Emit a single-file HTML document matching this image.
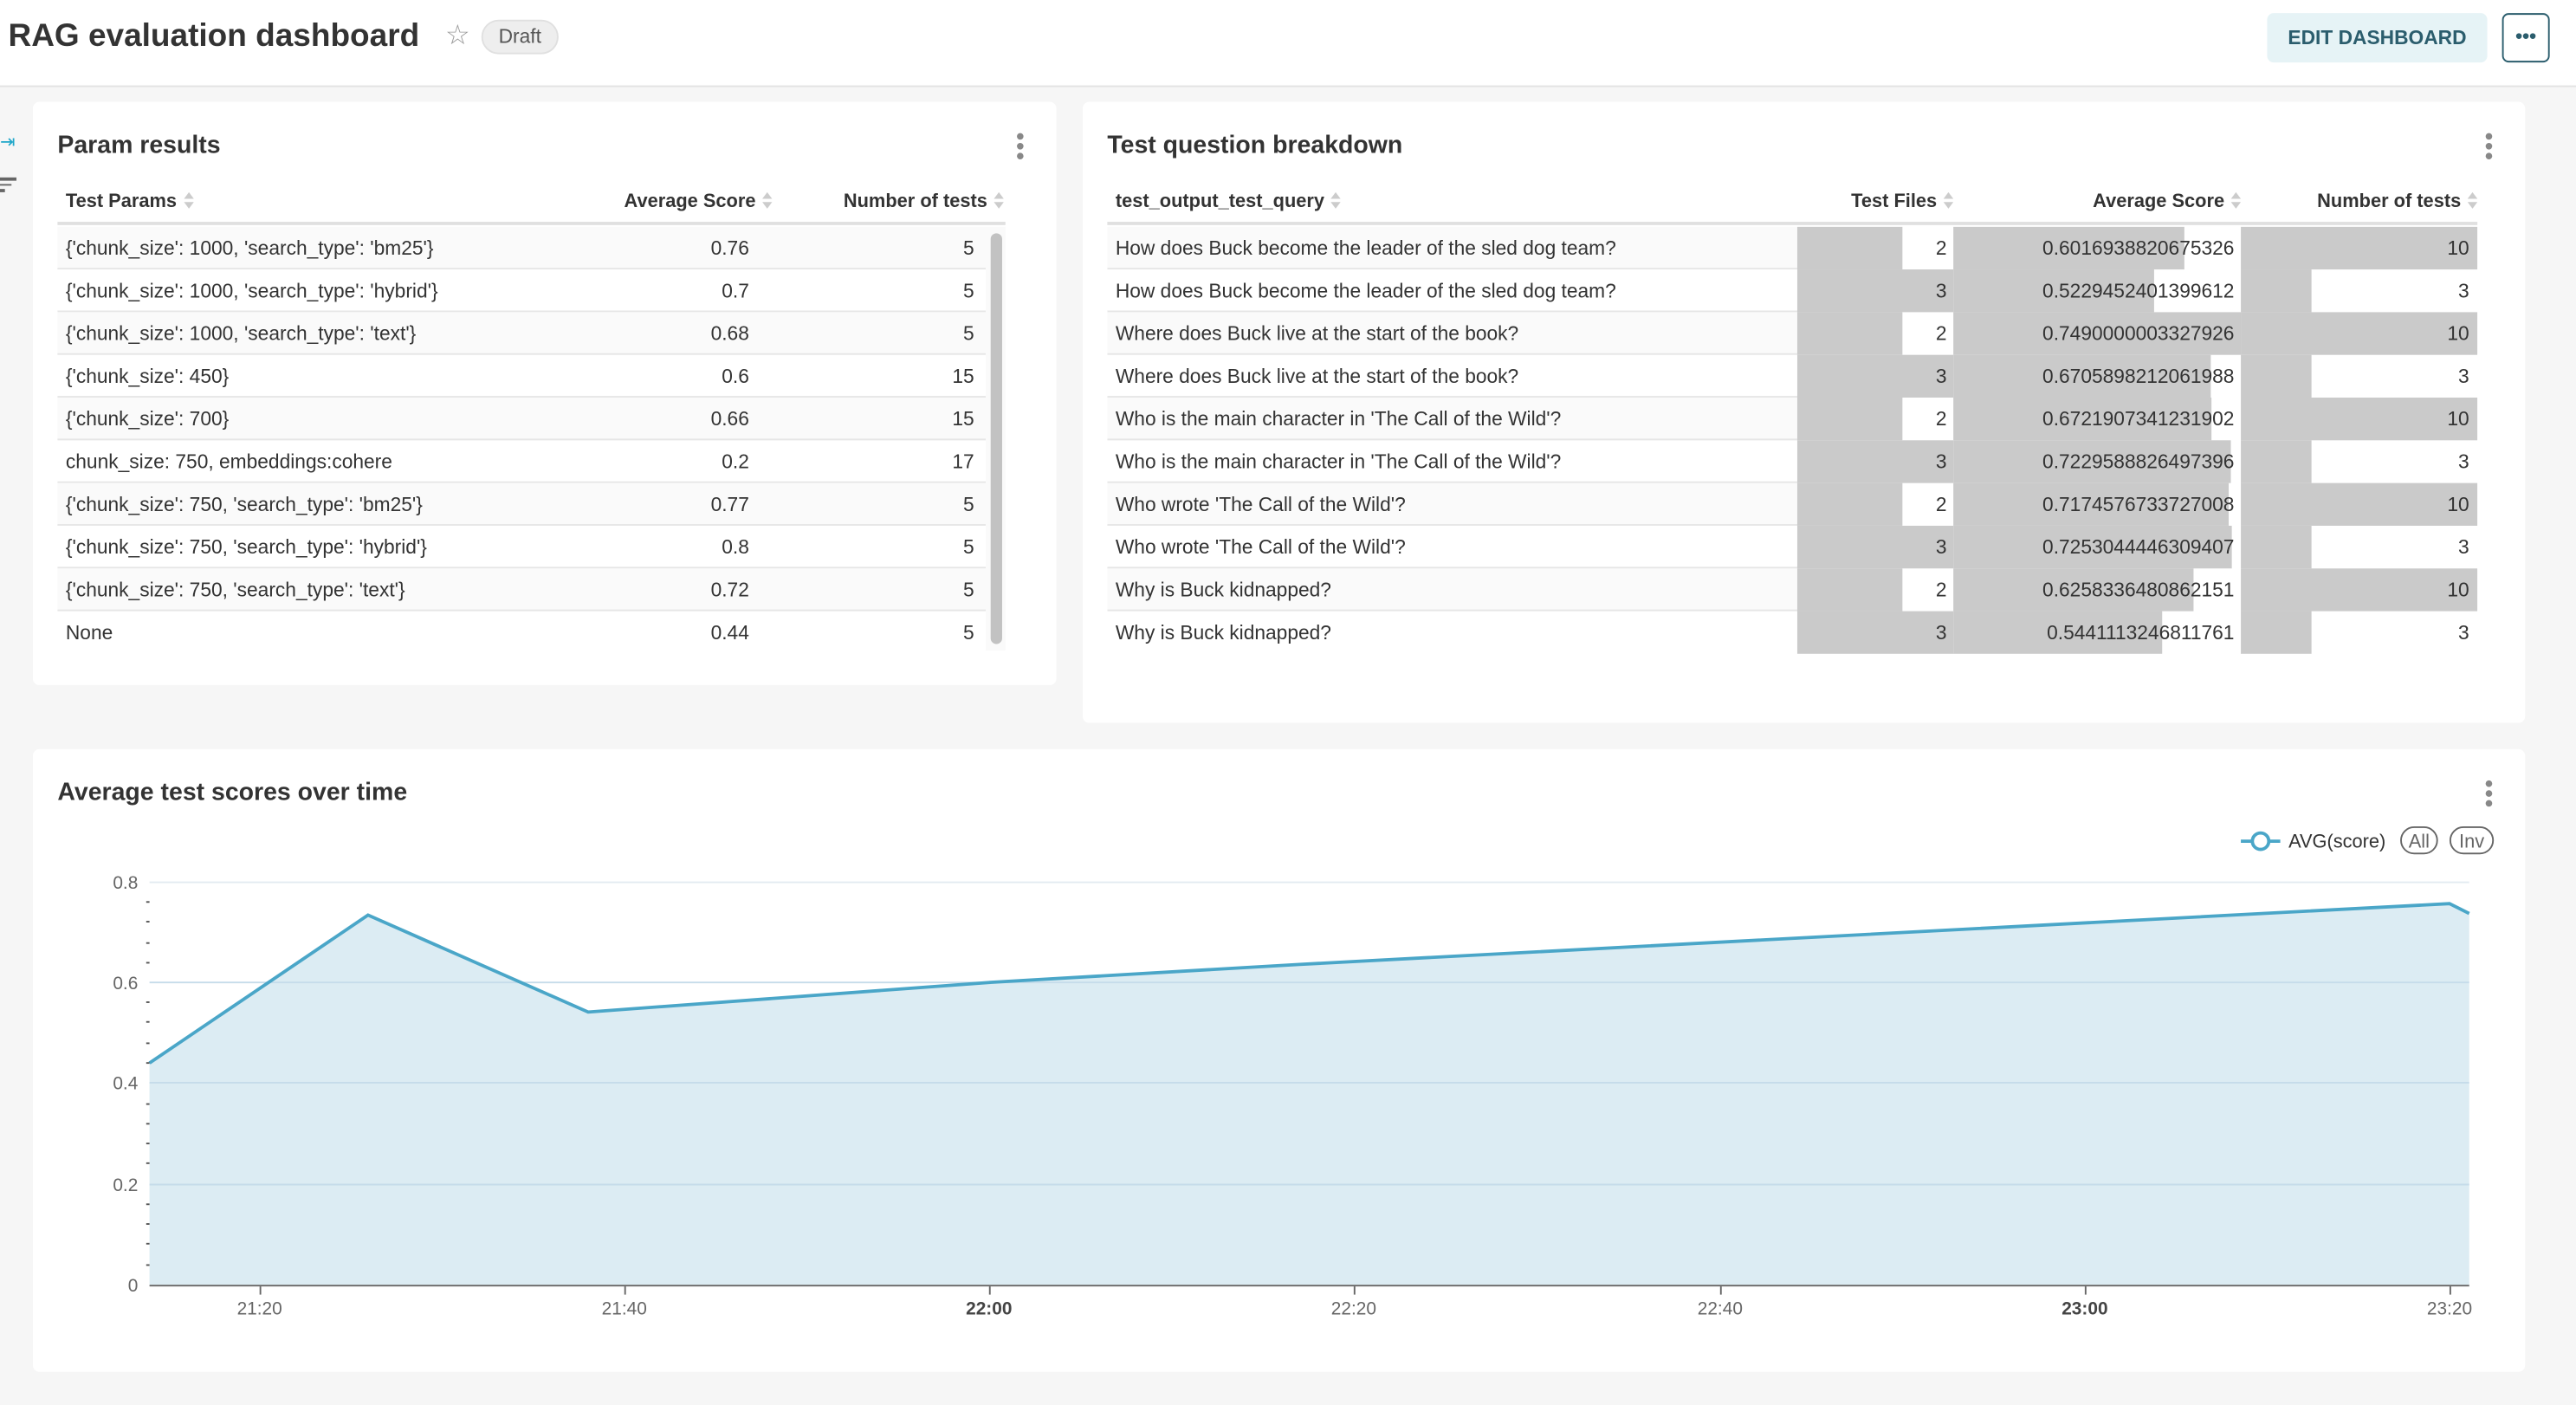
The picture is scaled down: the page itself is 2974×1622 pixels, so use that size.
<!DOCTYPE html>
<html><head><meta charset="utf-8"><style>
*{margin:0;padding:0;box-sizing:border-box}
html,body{width:2974px;height:1622px;overflow:hidden;background:#f6f6f6;font-family:"Liberation Sans",Arial,sans-serif;color:#333}
#w{position:absolute;left:0;top:0;width:1568px;height:855px;transform:scale(1.89668);transform-origin:0 0}
.a{position:absolute}
.hdr{left:0;top:0;width:1568px;height:53px;background:#fff;border-bottom:1px solid #e2e2e2}
.panel{background:#fff;border-radius:4px}
.pt{font-size:15px;font-weight:bold;color:#333}
.keb{width:4px}
.keb i{display:block;width:4px;height:4px;border-radius:2px;background:#888;margin-bottom:2px}
.th{font-size:11.5px;font-weight:bold;color:#333;white-space:nowrap}
.td{font-size:12px;color:#333;white-space:nowrap;line-height:26px}
.row{height:26px;border-bottom:1px solid #e6e6e6}
.s{display:inline-block;width:6px;height:10px;vertical-align:-1px;margin-left:4px}
</style></head><body><div id="w">
<div class="a hdr"></div>
<div class="a" style="left:5px;top:11px;font-size:19.5px;font-weight:bold;color:#333">RAG evaluation dashboard</div>
<div class="a" style="left:271px;top:12px;font-size:17px;color:#999">☆</div>
<div class="a" style="left:293px;top:12px;width:47px;height:21px;border-radius:11px;background:#eee;border:1px solid #e0e0e0;font-size:12px;line-height:19px;text-align:center;color:#555">Draft</div>
<div class="a" style="left:1380px;top:8px;width:134px;height:30px;background:#e6f3f6;border-radius:4px;font-size:12px;font-weight:bold;color:#2b5d6d;line-height:30px;text-align:center">EDIT DASHBOARD</div>
<div class="a" style="left:1523px;top:8px;width:29px;height:30px;border:1px solid #2b5d6d;border-radius:4px;font-size:12px;font-weight:bold;color:#2b5d6d;line-height:26px;text-align:center">•••</div>
<div class="a" style="left:0;top:80px;font-size:11px;color:#20a7c9">⇥</div>
<div class="a" style="left:0;top:108px;width:10px"><div style="height:1.5px;background:#666;width:10px;margin-bottom:2px"></div><div style="height:1.5px;background:#666;width:7px;margin-bottom:2px"></div><div style="height:1.5px;background:#666;width:3px"></div></div>

<div class="a panel" style="left:20px;top:62px;width:623px;height:355px"></div>
<div class="a pt" style="left:35px;top:80px">Param results</div>
<div class="a keb" style="left:619px;top:81px"><i></i><i></i><i></i></div>
<div class="a" style="left:35px;top:112px;width:577px;height:25px;border-bottom:2px solid #e0e0e0"></div>
<div class="a th" style="left:40px;top:117px">Test Params<svg class="s" viewBox="0 0 6 10"><path d="M3 0L6 4H0z M3 10L6 6H0z" fill="#ccc"/></svg></div>
<div class="a th" style="left:340px;top:117px;width:130px;text-align:right">Average Score<svg class="s" viewBox="0 0 6 10"><path d="M3 0L6 4H0z M3 10L6 6H0z" fill="#ccc"/></svg></div>
<div class="a th" style="left:480px;top:117px;width:131px;text-align:right">Number of tests<svg class="s" viewBox="0 0 6 10"><path d="M3 0L6 4H0z M3 10L6 6H0z" fill="#ccc"/></svg></div>
<div class="a" style="left:35px;top:138px;width:565px">
<div class="row" style="background:#fafafa;position:relative"><span class="a td" style="left:5px">{'chunk_size': 1000, 'search_type': 'bm25'}</span><span class="a td" style="right:144px">0.76</span><span class="a td" style="right:7px">5</span></div>
<div class="row" style="position:relative"><span class="a td" style="left:5px">{'chunk_size': 1000, 'search_type': 'hybrid'}</span><span class="a td" style="right:144px">0.7</span><span class="a td" style="right:7px">5</span></div>
<div class="row" style="background:#fafafa;position:relative"><span class="a td" style="left:5px">{'chunk_size': 1000, 'search_type': 'text'}</span><span class="a td" style="right:144px">0.68</span><span class="a td" style="right:7px">5</span></div>
<div class="row" style="position:relative"><span class="a td" style="left:5px">{'chunk_size': 450}</span><span class="a td" style="right:144px">0.6</span><span class="a td" style="right:7px">15</span></div>
<div class="row" style="background:#fafafa;position:relative"><span class="a td" style="left:5px">{'chunk_size': 700}</span><span class="a td" style="right:144px">0.66</span><span class="a td" style="right:7px">15</span></div>
<div class="row" style="position:relative"><span class="a td" style="left:5px">chunk_size: 750, embeddings:cohere</span><span class="a td" style="right:144px">0.2</span><span class="a td" style="right:7px">17</span></div>
<div class="row" style="background:#fafafa;position:relative"><span class="a td" style="left:5px">{'chunk_size': 750, 'search_type': 'bm25'}</span><span class="a td" style="right:144px">0.77</span><span class="a td" style="right:7px">5</span></div>
<div class="row" style="position:relative"><span class="a td" style="left:5px">{'chunk_size': 750, 'search_type': 'hybrid'}</span><span class="a td" style="right:144px">0.8</span><span class="a td" style="right:7px">5</span></div>
<div class="row" style="background:#fafafa;position:relative"><span class="a td" style="left:5px">{'chunk_size': 750, 'search_type': 'text'}</span><span class="a td" style="right:144px">0.72</span><span class="a td" style="right:7px">5</span></div>
<div class="row" style="position:relative;border-bottom:none"><span class="a td" style="left:5px">None</span><span class="a td" style="right:144px">0.44</span><span class="a td" style="right:7px">5</span></div>
</div>
<div class="a" style="left:600px;top:138px;width:12px;height:258px;background:#fafafa"></div>
<div class="a" style="left:603px;top:142px;width:7px;height:250px;border-radius:4px;background:#c2c2c2"></div>

<div class="a panel" style="left:659px;top:62px;width:878px;height:378px"></div>
<div class="a pt" style="left:674px;top:80px">Test question breakdown</div>
<div class="a keb" style="left:1513px;top:81px"><i></i><i></i><i></i></div>
<div class="a" style="left:674px;top:112px;width:834px;height:25px;border-bottom:2px solid #e0e0e0"></div>
<div class="a th" style="left:679px;top:117px">test_output_test_query<svg class="s" viewBox="0 0 6 10"><path d="M3 0L6 4H0z M3 10L6 6H0z" fill="#ccc"/></svg></div>
<div class="a th" style="left:1094px;top:117px;width:95px;text-align:right">Test Files<svg class="s" viewBox="0 0 6 10"><path d="M3 0L6 4H0z M3 10L6 6H0z" fill="#ccc"/></svg></div>
<div class="a th" style="left:1189px;top:117px;width:175px;text-align:right">Average Score<svg class="s" viewBox="0 0 6 10"><path d="M3 0L6 4H0z M3 10L6 6H0z" fill="#ccc"/></svg></div>
<div class="a th" style="left:1364px;top:117px;width:144px;text-align:right">Number of tests<svg class="s" viewBox="0 0 6 10"><path d="M3 0L6 4H0z M3 10L6 6H0z" fill="#ccc"/></svg></div>

<svg class="a" style="left:674px;top:138px" width="834" height="260">
<g fill="#fafafa"><rect x="0" y="0" width="420" height="26"/><rect x="0" y="52" width="420" height="26"/><rect x="0" y="104" width="420" height="26"/><rect x="0" y="156" width="420" height="26"/><rect x="0" y="208" width="420" height="26"/></g>
<g fill="#e6e6e6"><rect x="0" y="25" width="420" height="1"/><rect x="0" y="51" width="420" height="1"/><rect x="0" y="77" width="420" height="1"/><rect x="0" y="103" width="420" height="1"/><rect x="0" y="129" width="420" height="1"/><rect x="0" y="155" width="420" height="1"/><rect x="0" y="181" width="420" height="1"/><rect x="0" y="207" width="420" height="1"/><rect x="0" y="233" width="420" height="1"/></g>
<g fill="#cacaca">
<rect x="420" y="0" width="64" height="26"/><rect x="420" y="26" width="95" height="26"/><rect x="420" y="52" width="64" height="26"/><rect x="420" y="78" width="95" height="26"/><rect x="420" y="104" width="64" height="26"/><rect x="420" y="130" width="95" height="26"/><rect x="420" y="156" width="64" height="26"/><rect x="420" y="182" width="95" height="26"/><rect x="420" y="208" width="64" height="26"/><rect x="420" y="234" width="95" height="26"/>
<rect x="515" y="0" width="140.6" height="26"/><rect x="515" y="26" width="122.2" height="26"/><rect x="515" y="52" width="175" height="26"/><rect x="515" y="78" width="156.7" height="26"/><rect x="515" y="104" width="157.1" height="26"/><rect x="515" y="130" width="168.9" height="26"/><rect x="515" y="156" width="167.6" height="26"/><rect x="515" y="182" width="169.5" height="26"/><rect x="515" y="208" width="146.2" height="26"/><rect x="515" y="234" width="127.1" height="26"/>
<rect x="690" y="0" width="144" height="26"/><rect x="690" y="26" width="43" height="26"/><rect x="690" y="52" width="144" height="26"/><rect x="690" y="78" width="43" height="26"/><rect x="690" y="104" width="144" height="26"/><rect x="690" y="130" width="43" height="26"/><rect x="690" y="156" width="144" height="26"/><rect x="690" y="182" width="43" height="26"/><rect x="690" y="208" width="144" height="26"/><rect x="690" y="234" width="43" height="26"/>
</g>
<g font-family="Liberation Sans, Arial, sans-serif" font-size="12" fill="#333">
<text x="5" y="17">How does Buck become the leader of the sled dog team?</text>
<text x="5" y="43">How does Buck become the leader of the sled dog team?</text>
<text x="5" y="69">Where does Buck live at the start of the book?</text>
<text x="5" y="95">Where does Buck live at the start of the book?</text>
<text x="5" y="121">Who is the main character in 'The Call of the Wild'?</text>
<text x="5" y="147">Who is the main character in 'The Call of the Wild'?</text>
<text x="5" y="173">Who wrote 'The Call of the Wild'?</text>
<text x="5" y="199">Who wrote 'The Call of the Wild'?</text>
<text x="5" y="225">Why is Buck kidnapped?</text>
<text x="5" y="251">Why is Buck kidnapped?</text>
</g>
<g font-family="Liberation Sans, Arial, sans-serif" font-size="12" fill="#333" text-anchor="end">
<text x="511" y="17">2</text><text x="511" y="43">3</text><text x="511" y="69">2</text><text x="511" y="95">3</text><text x="511" y="121">2</text><text x="511" y="147">3</text><text x="511" y="173">2</text><text x="511" y="199">3</text><text x="511" y="225">2</text><text x="511" y="251">3</text>
<text x="686" y="17">0.6016938820675326</text><text x="686" y="43">0.5229452401399612</text><text x="686" y="69">0.7490000003327926</text><text x="686" y="95">0.6705898212061988</text><text x="686" y="121">0.6721907341231902</text><text x="686" y="147">0.7229588826497396</text><text x="686" y="173">0.7174576733727008</text><text x="686" y="199">0.7253044446309407</text><text x="686" y="225">0.6258336480862151</text><text x="686" y="251">0.5441113246811761</text>
<text x="829" y="17">10</text><text x="829" y="43">3</text><text x="829" y="69">10</text><text x="829" y="95">3</text><text x="829" y="121">10</text><text x="829" y="147">3</text><text x="829" y="173">10</text><text x="829" y="199">3</text><text x="829" y="225">10</text><text x="829" y="251">3</text>
</g>
</svg>

<div class="a panel" style="left:20px;top:456px;width:1517px;height:379px"></div>
<div class="a pt" style="left:35px;top:474px">Average test scores over time</div>
<div class="a keb" style="left:1513px;top:475px"><i></i><i></i><i></i></div>
<svg class="a" style="left:0;top:456px" width="1568" height="379">
<g transform="translate(0,-456)">
<g font-family="Liberation Sans, Arial, sans-serif" font-size="11.5" fill="#333">
<line x1="1364" y1="512" x2="1388" y2="512" stroke="#4aa6c8" stroke-width="2"/>
<circle cx="1376" cy="512" r="5" fill="#fff" stroke="#4aa6c8" stroke-width="2"/>
<text x="1393" y="516">AVG(score)</text>
<rect x="1461.5" y="503.5" width="22" height="16" rx="8" fill="none" stroke="#666"/>
<text x="1472.5" y="516" text-anchor="middle" fill="#666">All</text>
<rect x="1491.5" y="503.5" width="26" height="16" rx="8" fill="none" stroke="#666"/>
<text x="1504.5" y="516" text-anchor="middle" fill="#666">Inv</text>
</g>
<path d="M91 647 L224 557 L358 616 L602 598 L791 587 L1491 550 L1503 556 L1503 782 L91 782 Z" fill="#dcecf3"/>
<g stroke="#c5dcea" stroke-width="1"><line x1="91" y1="537" x2="1503" y2="537" stroke="#e3ebf1"/><line x1="91" y1="598" x2="1503" y2="598"/><line x1="91" y1="659" x2="1503" y2="659"/><line x1="91" y1="721" x2="1503" y2="721"/></g>
<path d="M91 647 L224 557 L358 616 L602 598 L791 587 L1491 550 L1503 556" fill="none" stroke="#4aa6c8" stroke-width="2"/>
<line x1="91" y1="782.5" x2="1503" y2="782.5" stroke="#666" stroke-width="1"/>
<g stroke="#666"><line x1="158.5" y1="783" x2="158.5" y2="788"/><line x1="380.5" y1="783" x2="380.5" y2="788"/><line x1="602.5" y1="783" x2="602.5" y2="788"/><line x1="824.5" y1="783" x2="824.5" y2="788"/><line x1="1047.5" y1="783" x2="1047.5" y2="788"/><line x1="1269.5" y1="783" x2="1269.5" y2="788"/><line x1="1491.5" y1="783" x2="1491.5" y2="788"/></g>
<g stroke="#555" stroke-width="1"><line x1="89" y1="549" x2="91" y2="549"/><line x1="89" y1="561" x2="91" y2="561"/><line x1="89" y1="574" x2="91" y2="574"/><line x1="89" y1="586" x2="91" y2="586"/><line x1="89" y1="610" x2="91" y2="610"/><line x1="89" y1="622" x2="91" y2="622"/><line x1="89" y1="635" x2="91" y2="635"/><line x1="89" y1="647" x2="91" y2="647"/><line x1="89" y1="672" x2="91" y2="672"/><line x1="89" y1="684" x2="91" y2="684"/><line x1="89" y1="696" x2="91" y2="696"/><line x1="89" y1="708" x2="91" y2="708"/><line x1="89" y1="733" x2="91" y2="733"/><line x1="89" y1="745" x2="91" y2="745"/><line x1="89" y1="757" x2="91" y2="757"/><line x1="89" y1="770" x2="91" y2="770"/></g>
<g font-family="Liberation Sans, Arial, sans-serif" font-size="11" fill="#666" text-anchor="end">
<text x="84" y="541">0.8</text><text x="84" y="602">0.6</text><text x="84" y="663">0.4</text><text x="84" y="725">0.2</text><text x="84" y="786">0</text>
</g>
<g font-family="Liberation Sans, Arial, sans-serif" font-size="11" fill="#666" text-anchor="middle">
<text x="158" y="800">21:20</text><text x="380" y="800">21:40</text><text x="602" y="800" font-weight="bold" fill="#444">22:00</text><text x="824" y="800">22:20</text><text x="1047" y="800">22:40</text><text x="1269" y="800" font-weight="bold" fill="#444">23:00</text><text x="1491" y="800">23:20</text>
</g>
</g>
</svg>
</div></body></html>
